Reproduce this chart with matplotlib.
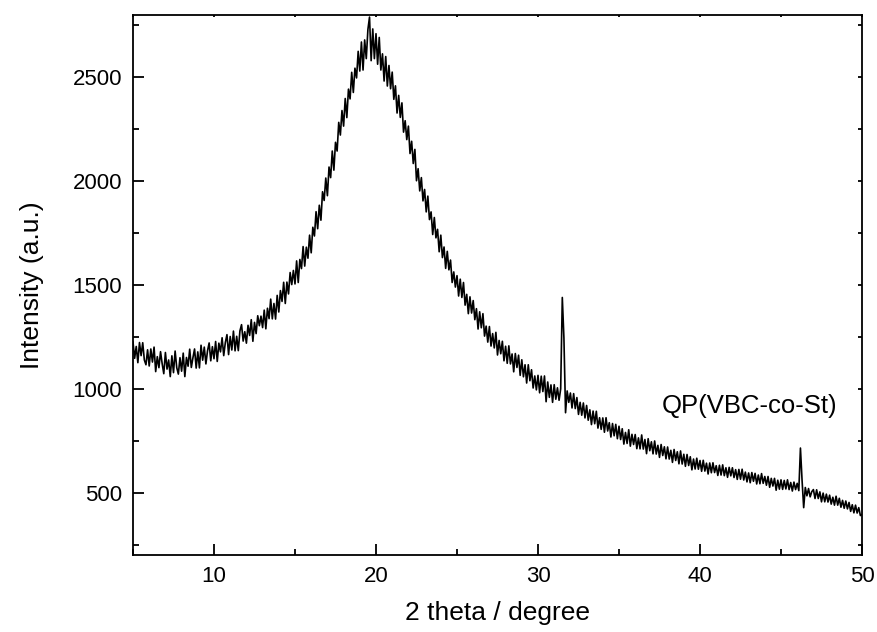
import numpy as np
import matplotlib
matplotlib.use("Agg")
import matplotlib.pyplot as plt
from matplotlib.ticker import MultipleLocator

plt.rcParams['font.family'] = ['Liberation Sans', 'DejaVu Sans']

# 2 theta from 5 to 50 deg, step 0.1 deg
two_theta_start = 5.0
two_theta_step = 0.1
intensity = [
    # 5.0
    1225, 1147, 1204, 1126, 1223, 1160, 1222, 1139, 1116, 1188,
    # 6.0
    1110, 1192, 1129, 1201, 1083, 1155, 1102, 1179, 1121, 1073,
    # 7.0
    1175, 1095, 1139, 1059, 1159, 1078, 1182, 1102, 1071, 1150,
    # 8.0
    1085, 1172, 1059, 1151, 1109, 1191, 1103, 1150, 1192, 1100,
    # 9.0
    1178, 1101, 1210, 1138, 1201, 1120, 1183, 1221, 1135, 1203,
    # 10.0
    1145, 1228, 1132, 1220, 1178, 1246, 1160, 1223, 1261, 1165,
    # 11.0
    1252, 1187, 1278, 1183, 1253, 1184, 1279, 1309, 1230, 1275,
    # 12.0
    1220, 1306, 1257, 1333, 1229, 1320, 1266, 1352, 1304, 1350,
    # 13.0
    1295, 1379, 1289, 1388, 1338, 1432, 1337, 1411, 1336, 1450,
    # 14.0
    1370, 1473, 1421, 1513, 1411, 1514, 1457, 1560, 1502, 1570,
    # 15.0
    1505, 1616, 1512, 1623, 1579, 1685, 1591, 1682, 1629, 1740,
    # 16.0
    1655, 1778, 1736, 1853, 1771, 1884, 1812, 1949, 1907, 2015,
    # 17.0
    1930, 2068, 2017, 2145, 2053, 2187, 2145, 2283, 2222, 2340,
    # 18.0
    2265, 2398, 2306, 2443, 2396, 2524, 2427, 2544, 2497, 2625,
    # 19.0
    2530, 2670, 2535, 2680, 2590, 2730, 2790, 2580, 2733, 2590,
    # 20.0
    2710, 2563, 2692, 2535, 2613, 2482, 2600, 2458, 2557, 2445,
    # 21.0
    2525, 2394, 2459, 2328, 2413, 2307, 2377, 2236, 2291, 2200,
    # 22.0
    2265, 2133, 2192, 2085, 2153, 2002, 2060, 1953, 2017, 1905,
    # 23.0
    1960, 1852, 1928, 1815, 1852, 1743, 1825, 1727, 1768, 1660,
    # 24.0
    1740, 1632, 1683, 1580, 1662, 1573, 1620, 1512, 1563, 1490,
    # 25.0
    1545, 1447, 1528, 1440, 1512, 1403, 1455, 1362, 1443, 1365,
    # 26.0
    1425, 1333, 1386, 1288, 1371, 1294, 1362, 1254, 1302, 1225,
    # 27.0
    1300, 1206, 1266, 1197, 1272, 1163, 1233, 1169, 1229, 1135,
    # 28.0
    1205, 1123, 1207, 1120, 1168, 1082, 1170, 1103, 1162, 1065,
    # 29.0
    1140, 1058, 1116, 1028, 1116, 1039, 1092, 1004, 1062, 995,
    # 30.0
    1065, 981, 1061, 987, 1062, 938, 1033, 959, 1019, 935,
    # 31.0
    1020, 950, 1005, 945, 1000, 1440, 1245, 885, 990, 935,
    # 32.0
    980, 908, 977, 905, 958, 877, 935, 873, 932, 860,
    # 33.0
    920, 849, 899, 828, 893, 832, 892, 811, 861, 805,
    # 34.0
    860, 791, 861, 797, 837, 768, 833, 774, 829, 760,
    # 35.0
    820, 756, 808, 734, 790, 737, 803, 724, 781, 732,
    # 36.0
    780, 712, 764, 711, 778, 710, 756, 688, 760, 702,
    # 37.0
    745, 687, 749, 686, 728, 670, 732, 679, 721, 663,
    # 38.0
    720, 662, 704, 646, 708, 655, 697, 639, 701, 638,
    # 39.0
    685, 627, 684, 631, 673, 610, 662, 614, 666, 613,
    # 40.0
    655, 603, 656, 604, 642, 590, 643, 596, 644, 597,
    # 41.0
    630, 583, 632, 585, 634, 582, 620, 574, 622, 581,
    # 42.0
    620, 573, 611, 564, 612, 565, 613, 561, 599, 552,
    # 43.0
    595, 548, 597, 555, 593, 542, 585, 543, 592, 545,
    # 44.0
    578, 536, 578, 526, 569, 532, 569, 512, 560, 517,
    # 45.0
    562, 516, 559, 518, 562, 515, 549, 508, 551, 515,
    # 46.0
    545, 510, 715, 560, 428, 525, 485, 520, 480, 505,
    # 47.0
    515, 472, 514, 472, 504, 456, 498, 456, 493, 455,
    # 48.0
    488, 445, 478, 440, 483, 440, 473, 430, 463, 425,
    # 49.0
    460, 422, 453, 410, 442, 403, 440, 402, 428, 390,
    # 50.0
    395,
]
two_theta = two_theta_start + two_theta_step * np.arange(len(intensity))

x_ticks = [10, 20, 30, 40, 50]
y_ticks = [500, 1000, 1500, 2000, 2500]
sample_label = "QP(VBC-co-St)"

fig = plt.figure(figsize=(8.77, 6.32), dpi=100)
ax = fig.add_axes([133/877, 1 - 555/632, (862 - 133)/877, (555 - 15)/632])

ax.plot(two_theta, intensity, color='black', linewidth=1.2)

ax.set_xlim(5, 50)
ax.set_ylim(200, 2800)
ax.set_xticks(x_ticks)
ax.set_yticks(y_ticks)
ax.xaxis.set_minor_locator(MultipleLocator(5))
ax.yaxis.set_minor_locator(MultipleLocator(250))

for s in ax.spines.values():
    s.set_linewidth(1.3)

ax.tick_params(axis='both', which='major', direction='in', length=8, width=1.3,
               labelsize=16, pad=8)
ax.tick_params(axis='both', which='minor', direction='in', length=4.5, width=1.3)
ax.tick_params(axis='y', which='both', right=True)
ax.tick_params(axis='x', which='both', top=True)
# shorter ticks on top and right
for t in ax.yaxis.get_major_ticks() + ax.yaxis.get_minor_ticks():
    t.tick2line.set_markersize(3)
for t in ax.xaxis.get_major_ticks() + ax.xaxis.get_minor_ticks():
    t.tick2line.set_markersize(1.5)

ax.set_xlabel("2 theta / degree", fontsize=19, labelpad=10)
ax.set_ylabel("Intensity (a.u.)", fontsize=19, labelpad=20)

ax.text(37.65, 915, sample_label, fontsize=18.5, ha='left', va='center')

fig.savefig("out.png", dpi=100)
